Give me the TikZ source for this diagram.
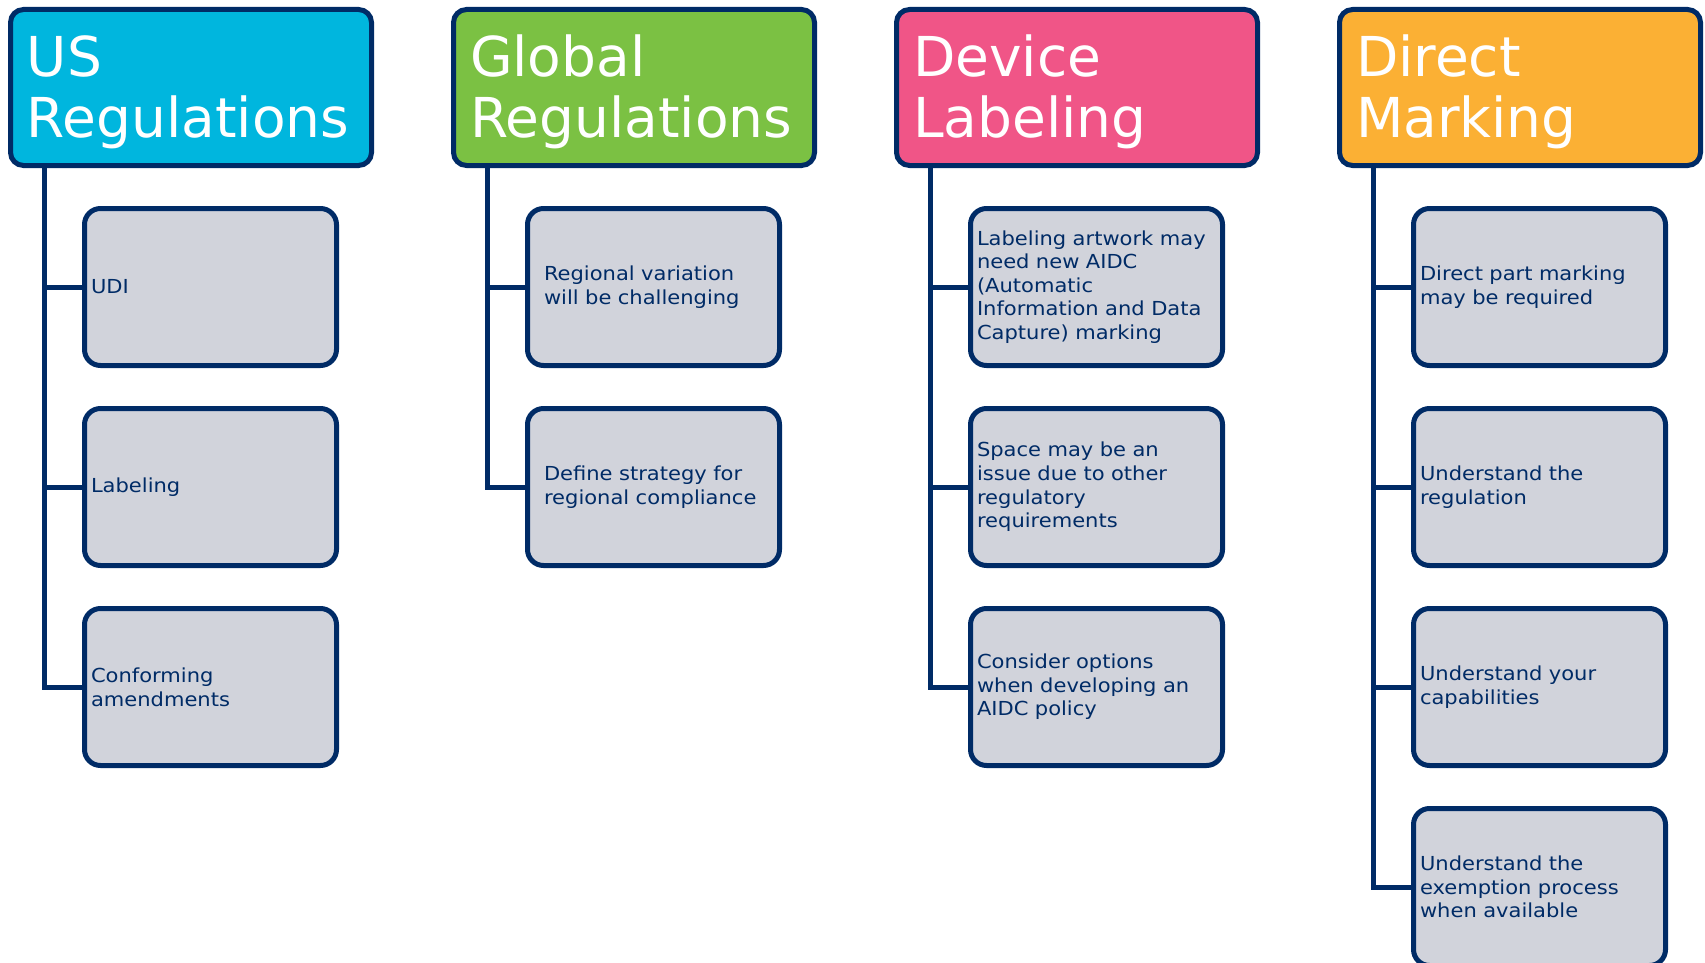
\documentclass[tikz,border=0pt]{standalone}
\usepackage{fontspec}
\setmainfont{DejaVu Sans}
\newfontfamily\cardfont{DejaVu Sans}[FakeStretch=1.09]
\definecolor{usblue}{RGB}{0,182,222}
\definecolor{globgreen}{RGB}{123,193,67}
\definecolor{devpink}{RGB}{240,85,135}
\definecolor{markorange}{RGB}{251,176,52}
\definecolor{navy}{RGB}{0,43,102}
\definecolor{cardgrey}{RGB}{209,211,219}

\begin{document}
\begin{tikzpicture}[x=1pt,y=-1pt,
 head/.style={draw=navy,line width=5pt,rounded corners=13pt,
   minimum width=361pt,minimum height=156pt,inner xsep=16.5pt,
   text width=328pt,align=left,text=white,
   execute at begin node=\rule{0pt}{51pt},
   font=\fontsize{55}{61}\selectfont},
 card/.style={draw=navy,fill=cardgrey,line width=5pt,rounded corners=16pt,
   minimum width=252pt,minimum height=157pt,inner xsep=6.5pt,
   text width=239pt,align=left,text=navy,
   font=\cardfont\fontsize{19.3}{23.6}\selectfont},
 wide/.style={inner xsep=16.5pt,text width=219pt},
 branch/.style={navy,line width=5pt}]
 \useasboundingbox (0,0) rectangle (1705,963);

 % US regulations
 \node[head,fill=usblue] (us) at (191,87.5) {US\\Regulations};
 \foreach \n/\txt in {1/UDI,2/Labeling,3/{Conforming\\amendments}}{
  \node[card] (us\n) at (210.5,{87+200*\n}) {\txt};
  \draw[branch] (us.south west) ++(36.5,0) |- (us\n.west);}

 % global regulations
 \begin{scope}[xshift=443]
 \node[head,fill=globgreen] (gl) at (191,87.5) {Global\\Regulations};
 \foreach \n/\txt in {1/{Regional variation\\will be challenging},
                      2/{Define strategy for\\regional compliance}}{
  \node[card,wide] (gl\n) at (210.5,{87+200*\n}) {\txt};
  \draw[branch] (gl.south west) ++(36.5,0) |- (gl\n.west);}
 \end{scope}

 % device labeling
 \begin{scope}[xshift=886]
 \node[head,fill=devpink] (dl) at (191,87.5) {Device\\Labeling};
 \foreach \n/\txt in {1/{Labeling artwork may\\need new AIDC\\(Automatic\\
                         Information and Data\\Capture) marking},
                      2/{Space may be an\\issue due to other\\regulatory\\
                         requirements},
                      3/{Consider options\\when developing an\\AIDC policy}}{
  \node[card] (dl\n) at (210.5,{87+200*\n}) {\txt};
  \draw[branch] (dl.south west) ++(36.5,0) |- (dl\n.west);}
 \end{scope}

 % direct marking
 \begin{scope}[xshift=1329]
 \node[head,fill=markorange] (dm) at (191,87.5) {Direct\\Marking};
 \foreach \n/\txt in {1/{Direct part marking\\may be required},
                      2/{Understand the\\regulation},
                      3/{Understand your\\capabilities},
                      4/{Understand the\\exemption process\\when available}}{
  \node[card] (dm\n) at (210.5,{87+200*\n}) {\txt};
  \draw[branch] (dm.south west) ++(36.5,0) |- (dm\n.west);}
 \end{scope}
\end{tikzpicture}
\end{document}
